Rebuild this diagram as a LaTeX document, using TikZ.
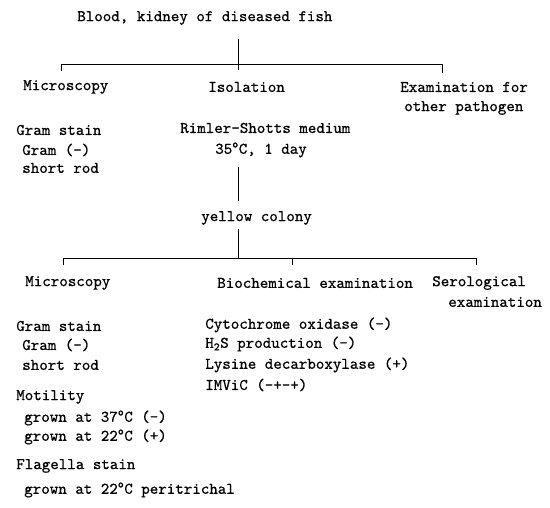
\documentclass[tikz,border=0pt]{standalone}
\usepackage{fontspec}
\newfontfamily\typewr{lmmono10-regular.otf}[FakeBold=0.7]

\begin{document}
\begin{tikzpicture}[x=1pt,y=-1pt,line width=0.6pt,
  txt/.style={anchor=west,inner sep=0pt,font=\typewr\fontsize{16.2}{18}\selectfont},
  tick/.style={shorten >=#1}]
  \useasboundingbox (0,0) rectangle (550,508);
  \node[txt] (blood) at (77,18) {Blood, kidney of diseased fish};
  \node[txt] (mic1) at (23,87) {Microscopy};
  \node[txt] (iso) at (208,87) {Isolation};
  \node[txt] (oth1) at (400,87) {Examination for};
  \node[txt] (oth2) at (404,108) {other pathogen};
  \node[txt] (gs1) at (16,130) {Gram stain};
  \node[txt] (gn1) at (22,150) {Gram (-)};
  \node[txt] (sr1) at (22,168) {short rod};
  \node[txt] (rim) at (180,128) {Rimler-Shotts medium};
  \node[txt] (inc) at (215,150) {35\textsuperscript{o}C, 1 day};
  \node[txt] (col) at (201,218) {yellow colony};
  \node[txt] (mic2) at (25,283) {Microscopy};
  \node[txt] (bio) at (217,283) {Biochemical examination};
  \node[txt] (ser1) at (432,283) {Serological};
  \node[txt] (ser2) at (448,302) {examination};
  \node[txt] (gs2) at (16,326) {Gram stain};
  \node[txt] (gn2) at (22,345) {Gram (-)};
  \node[txt] (sr2) at (22,365) {short rod};
  \node[txt] (mot) at (16,397) {Motility};
  \node[txt] (mot1) at (24,418) {grown at 37\textsuperscript{o}C (-)};
  \node[txt] (mot2) at (24,437) {grown at 22\textsuperscript{o}C (+)};
  \node[txt] (fla) at (16,466) {Flagella stain};
  \node[txt] (fla1) at (24,490) {grown at 22\textsuperscript{o}C peritrichal};
  \node[txt] (cyt) at (205,325) {Cytochrome oxidase (-)};
  \node[txt] (hs) at (205,344) {H\textsubscript{2}S production (-)};
  \node[txt] (lys) at (205,365) {Lysine decarboxylase (+)};
  \node[txt] (imv) at (205,385) {IMViC (-+-+)};
  \coordinate (j1) at (238,64);
  \coordinate (l1) at (61,64);
  \coordinate (r1) at (442,64);
  \draw[shorten <=14pt,tick=12pt] (blood.south -| j1) -- (iso.north -| j1);
  \draw (l1) -- (r1);
  \draw[tick=9pt] (l1) -- (l1 |- mic1.north);
  \draw[tick=9pt] (r1) -- (r1 |- oth1.north);
  \draw[shorten <=9pt,tick=10pt] (inc.south -| j1) -- (col.north -| j1);
  \coordinate (j2) at (238,258);
  \coordinate (l2) at (63,258);
  \coordinate (m2) at (292,258);
  \coordinate (r2) at (476,258);
  \draw[shorten <=4pt] (col.south -| j2) -- (j2);
  \draw (l2) -- (r2);
  \draw[tick=11pt] (l2) -- (l2 |- mic2.north);
  \draw[tick=13pt] (m2) -- (m2 |- bio.north);
  \draw[tick=11pt] (r2) -- (r2 |- ser1.north);
\end{tikzpicture}
\end{document}
